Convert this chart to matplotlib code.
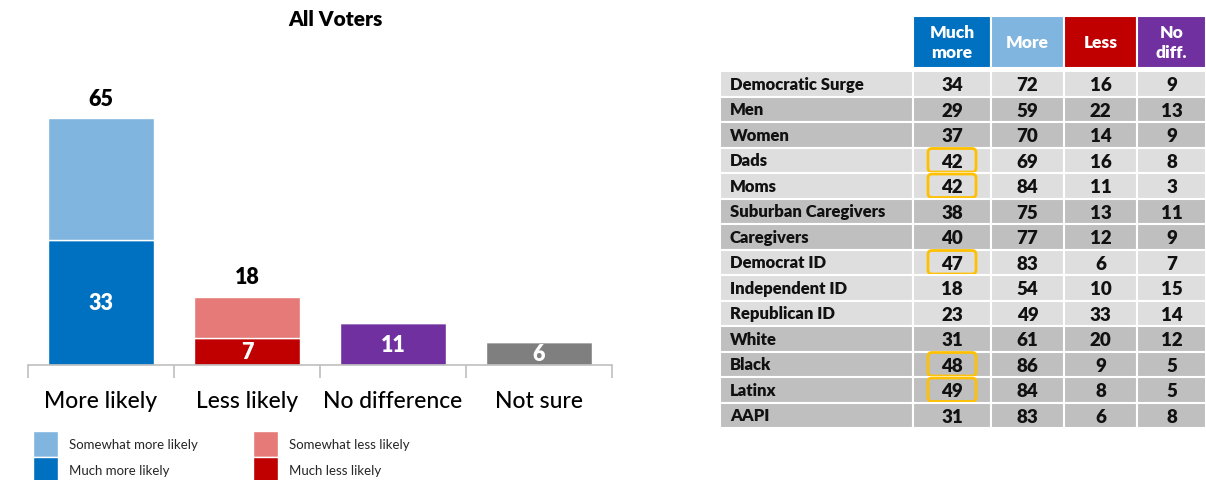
import matplotlib.pyplot as plt
from matplotlib.patches import Rectangle, FancyBboxPatch

plt.rcParams['font.family'] = ['Lato', 'DejaVu Sans']

# left panel: all voters
categories = ["More likely", "Less likely", "No difference", "Not sure"]
much_vals = [33, 7, 11, 6]
somewhat_vals = [32, 11, 0, 0]

# right panel: subgroup table
groups = ["Democratic Surge", "Men", "Women", "Dads", "Moms", "Suburban Caregivers",
          "Caregivers", "Democrat ID", "Independent ID", "Republican ID", "White",
          "Black", "Latinx", "AAPI"]
much_more = [34, 29, 37, 42, 42, 38, 40, 47, 18, 23, 31, 48, 49, 31]
more = [72, 59, 70, 69, 84, 75, 77, 83, 54, 49, 61, 86, 84, 83]
less = [16, 22, 14, 16, 11, 13, 12, 6, 10, 33, 20, 9, 8, 6]
no_diff = [9, 13, 9, 8, 3, 11, 9, 7, 15, 14, 12, 5, 5, 8]
headers = ["Much\nmore", "More", "Less", "No\ndiff."]
shaded = [False, True, True, False, False, True, True, False, False, False,
          True, True, True, True]
highlighted = ["Dads", "Moms", "Democrat ID", "Black", "Latinx"]

DARK_BLUE = "#0070C0"
LIGHT_BLUE = "#7FB5DF"
DARK_RED = "#C00000"
LIGHT_RED = "#E57A78"
PURPLE = "#7030A0"
GRAY = "#7F7F7F"
BOLD = "heavy"

W, H = 1206, 481
fig = plt.figure(figsize=(W / 100, H / 100), dpi=100)

# ---- stacked bars ----
ax = fig.add_axes([28 / W, (H - 366) / H, 584 / W, 266 / H])
x = range(len(categories))
much_colors = [DARK_BLUE, DARK_RED, PURPLE, GRAY]
soft_colors = [LIGHT_BLUE, LIGHT_RED, "none", "none"]
b1 = ax.bar(x, much_vals, width=0.73, color=much_colors, edgecolor="white", linewidth=1)
b2 = ax.bar(x, somewhat_vals, width=0.73, bottom=much_vals, color=soft_colors,
            edgecolor="white", linewidth=1)
ax.set_xlim(-0.5, 3.5)
ax.set_ylim(0, 70)

for i, (m, s) in enumerate(zip(much_vals, somewhat_vals)):
    ax.text(i, m / 2, str(m), ha="center", va="center", color="white",
            fontsize=15.5, fontweight=BOLD)
    if s > 0:
        ax.text(i, m + s + 2.5, str(m + s), ha="center", va="bottom", color="black",
                fontsize=15.5, fontweight=BOLD)

for side in ["top", "right", "left"]:
    ax.spines[side].set_visible(False)
ax.spines["bottom"].set_color("#BFBFBF")
ax.spines["bottom"].set_linewidth(1.2)
ax.set_yticks([])
ax.set_xticks([-0.5, 0.5, 1.5, 2.5, 3.5])
ax.set_xticklabels([])
ax.tick_params(axis="x", length=9, color="#BFBFBF", width=1.2)
ax.set_xticks(list(x), minor=True)
ax.set_xticklabels(categories, minor=True, fontsize=16.5, color="black",
                   fontweight="medium")
ax.tick_params(axis="x", which="minor", length=0, pad=18)

fig.text(335 / W, 1 - 20 / H, "All Voters", ha="center", va="center",
         fontsize=15, fontweight=BOLD)

handles = [b2[0], b1[0], b2[1], b1[1]]
labels = ["Somewhat more likely", "Much more likely",
          "Somewhat less likely", "Much less likely"]
fig.legend(handles, labels, ncol=2, loc="upper left",
           bbox_to_anchor=(33 / W, 1 - 432 / H), frameon=False, fontsize=9.5,
           handlelength=1.9, handleheight=2.65, handletextpad=0.8,
           labelspacing=0.0, columnspacing=4.2, borderpad=0, borderaxespad=0,
           labelcolor="#262626")

# ---- subgroup table ----
tx0, ty0, tx1, ty1 = 720, 17, 1206, 429
tab = fig.add_axes([tx0 / W, (H - ty1) / H, (tx1 - tx0) / W, (ty1 - ty0) / H])
tab.set_xlim(0, tx1 - tx0)
tab.set_ylim(ty1 - ty0, 0)
tab.axis("off")

col_edges = [0, 193, 271, 344, 417, 486]
header_h = 52
row_top = 55
row_h = 25.5
header_colors = [DARK_BLUE, LIGHT_BLUE, DARK_RED, PURPLE]
columns = [much_more, more, less, no_diff]

for j, (hdr, col) in enumerate(zip(headers, header_colors)):
    x0, x1 = col_edges[j + 1], col_edges[j + 2]
    tab.add_patch(Rectangle((x0, 0), x1 - x0, header_h, facecolor=col,
                            edgecolor="white", linewidth=1.5))
    tab.text((x0 + x1) / 2, header_h / 2, hdr, ha="center", va="center",
             color="white", fontsize=12.5, fontweight=BOLD, linespacing=1.3)

for i, name in enumerate(groups):
    y0 = row_top + i * row_h
    face = "#BFBFBF" if shaded[i] else "#DEDEDE"
    for j in range(len(col_edges) - 1):
        x0, x1 = col_edges[j], col_edges[j + 1]
        tab.add_patch(Rectangle((x0, y0), x1 - x0, row_h, facecolor=face,
                                edgecolor="white", linewidth=1.5))
    yc = y0 + row_h / 2
    tab.text(10, yc, name, ha="left", va="center", fontsize=12,
             fontweight=BOLD, color="#111111")
    for j, vals in enumerate(columns):
        xc = (col_edges[j + 1] + col_edges[j + 2]) / 2
        tab.text(xc, yc + 1, str(vals[i]), ha="center", va="center",
                 fontsize=13.5, fontweight=BOLD, color="#111111")
    if name in highlighted:
        xc = (col_edges[1] + col_edges[2]) / 2
        tab.add_patch(FancyBboxPatch((xc - 22, y0 + 3), 44, row_h - 6,
                                     boxstyle="round,pad=2,rounding_size=4",
                                     facecolor="none", edgecolor="#FFC000",
                                     linewidth=2))

fig.savefig("out.png", dpi=100)
